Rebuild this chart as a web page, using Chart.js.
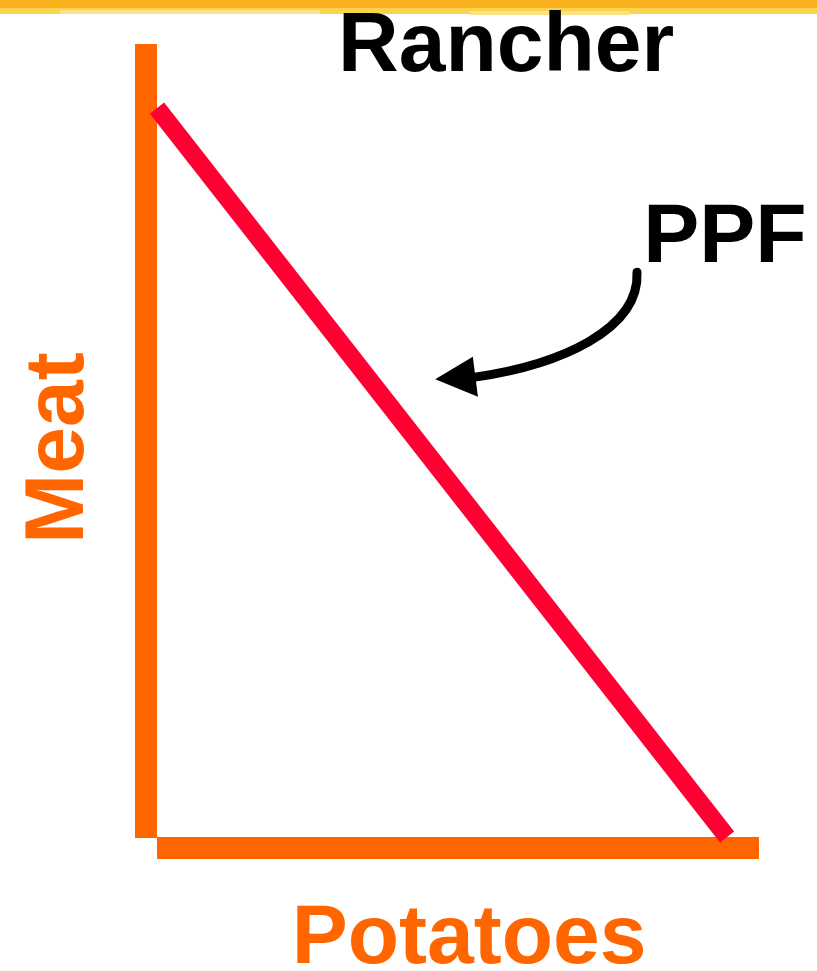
<!DOCTYPE html>
<html lang="en">
  <head>
    <meta charset="utf-8" />
    <title>Rancher PPF</title>
    <style>
      * {
        margin: 0;
        padding: 0;
      }
      body {
        background: #ffffff;
      }
      .chartBox {
        width: 817px;
        height: 971px;
      }
    </style>
  </head>
  <body>
    <div class="chartBox">
      <canvas id="myChart"></canvas>
    </div>

    <script src="https://cdn.jsdelivr.net/npm/chart.js@4/dist/chart.umd.min.js"></script>

    <script>
      // data block
      const potatoes = [0, 100];
      const meat = [100, 0];
      const xMax = 105.6;
      const yMax = 108.8;

      const orange = "#FF6600";
      const red = "#FF0033";
      const font = "bold 84px 'Liberation Sans', Arial, sans-serif";

      // axes + top strip, drawn under the line
      const axesBars = {
        id: "axesBars",
        beforeDatasetsDraw(chart) {
          const { ctx, chartArea: { top, bottom, left, right } } = chart;
          ctx.save();
          // yellow brush strip at the top of the slide
          ctx.fillStyle = "#FCD34D";
          ctx.fillRect(0, 0, chart.width, 14);
          ctx.fillStyle = "#F9B21E";
          ctx.fillRect(0, 0, chart.width, 8);
          ctx.fillStyle = "#FDE08A";
          ctx.fillRect(60, 10, 260, 4);
          ctx.fillRect(470, 11, 160, 4);
          ctx.restore();

          ctx.save();
          ctx.fillStyle = orange;
          ctx.fillRect(left - 22, top, 22, bottom - top + 1);
          ctx.fillRect(left, bottom, right - left, 22);
          ctx.restore();
        },
      };

      // labels and the PPF arrow
      const labels = {
        id: "labels",
        afterDatasetsDraw(chart) {
          const { ctx, scales: { x, y }, chartArea: { left, bottom, right } } = chart;
          ctx.save();
          ctx.font = font;
          ctx.textBaseline = "alphabetic";

          ctx.fillStyle = "#000000";
          ctx.textAlign = "left";
          ctx.fillText("Rancher", 338, 71);
          ctx.fillText("PPF", x.getPixelForValue(85.3), y.getPixelForValue(78.9));

          ctx.fillStyle = orange;
          ctx.textAlign = "center";
          ctx.fillText("Potatoes", (left + right) / 2 + 11, bottom + 126);

          ctx.save();
          ctx.translate(83, 448);
          ctx.rotate(-Math.PI / 2);
          ctx.fillText("Meat", 0, 0);
          ctx.restore();

          // curved arrow
          const px = (v) => x.getPixelForValue(v);
          const py = (v) => y.getPixelForValue(v);
          ctx.strokeStyle = "#000000";
          ctx.lineWidth = 9;
          ctx.lineCap = "round";
          ctx.beginPath();
          ctx.moveTo(px(84.2), py(77.5));
          ctx.bezierCurveTo(px(84.7), py(69.6), px(70.7), py(64.8), px(55.8), py(63.1));
          ctx.stroke();
          ctx.fillStyle = "#000000";
          ctx.beginPath();
          ctx.moveTo(px(48.8), py(62.8));
          ctx.lineTo(px(55.4), py(65.9));
          ctx.lineTo(px(56.3), py(60.4));
          ctx.closePath();
          ctx.fill();
          ctx.restore();
        },
      };

      // config block
      const config = {
        type: "line",
        data: {
          labels: potatoes,
          datasets: [
            {
              label: "PPF",
              data: potatoes.map((p, i) => ({ x: p, y: meat[i] })),
              borderColor: red,
              borderWidth: 18,
              borderCapStyle: "butt",
              pointRadius: 0,
              tension: 0,
              clip: false,
            },
          ],
        },
        options: {
          responsive: true,
          maintainAspectRatio: false,
          animation: false,
          layout: {
            padding: { left: 157, right: 58, top: 44, bottom: 134 },
          },
          scales: {
            x: { type: "linear", min: 0, max: xMax, display: false },
            y: { type: "linear", min: 0, max: yMax, display: false },
          },
          plugins: {
            legend: { display: false },
            tooltip: { enabled: false },
          },
        },
        plugins: [axesBars, labels],
      };

      // init render block
      const myChart = new Chart(document.getElementById("myChart"), config);
    </script>
  </body>
</html>
